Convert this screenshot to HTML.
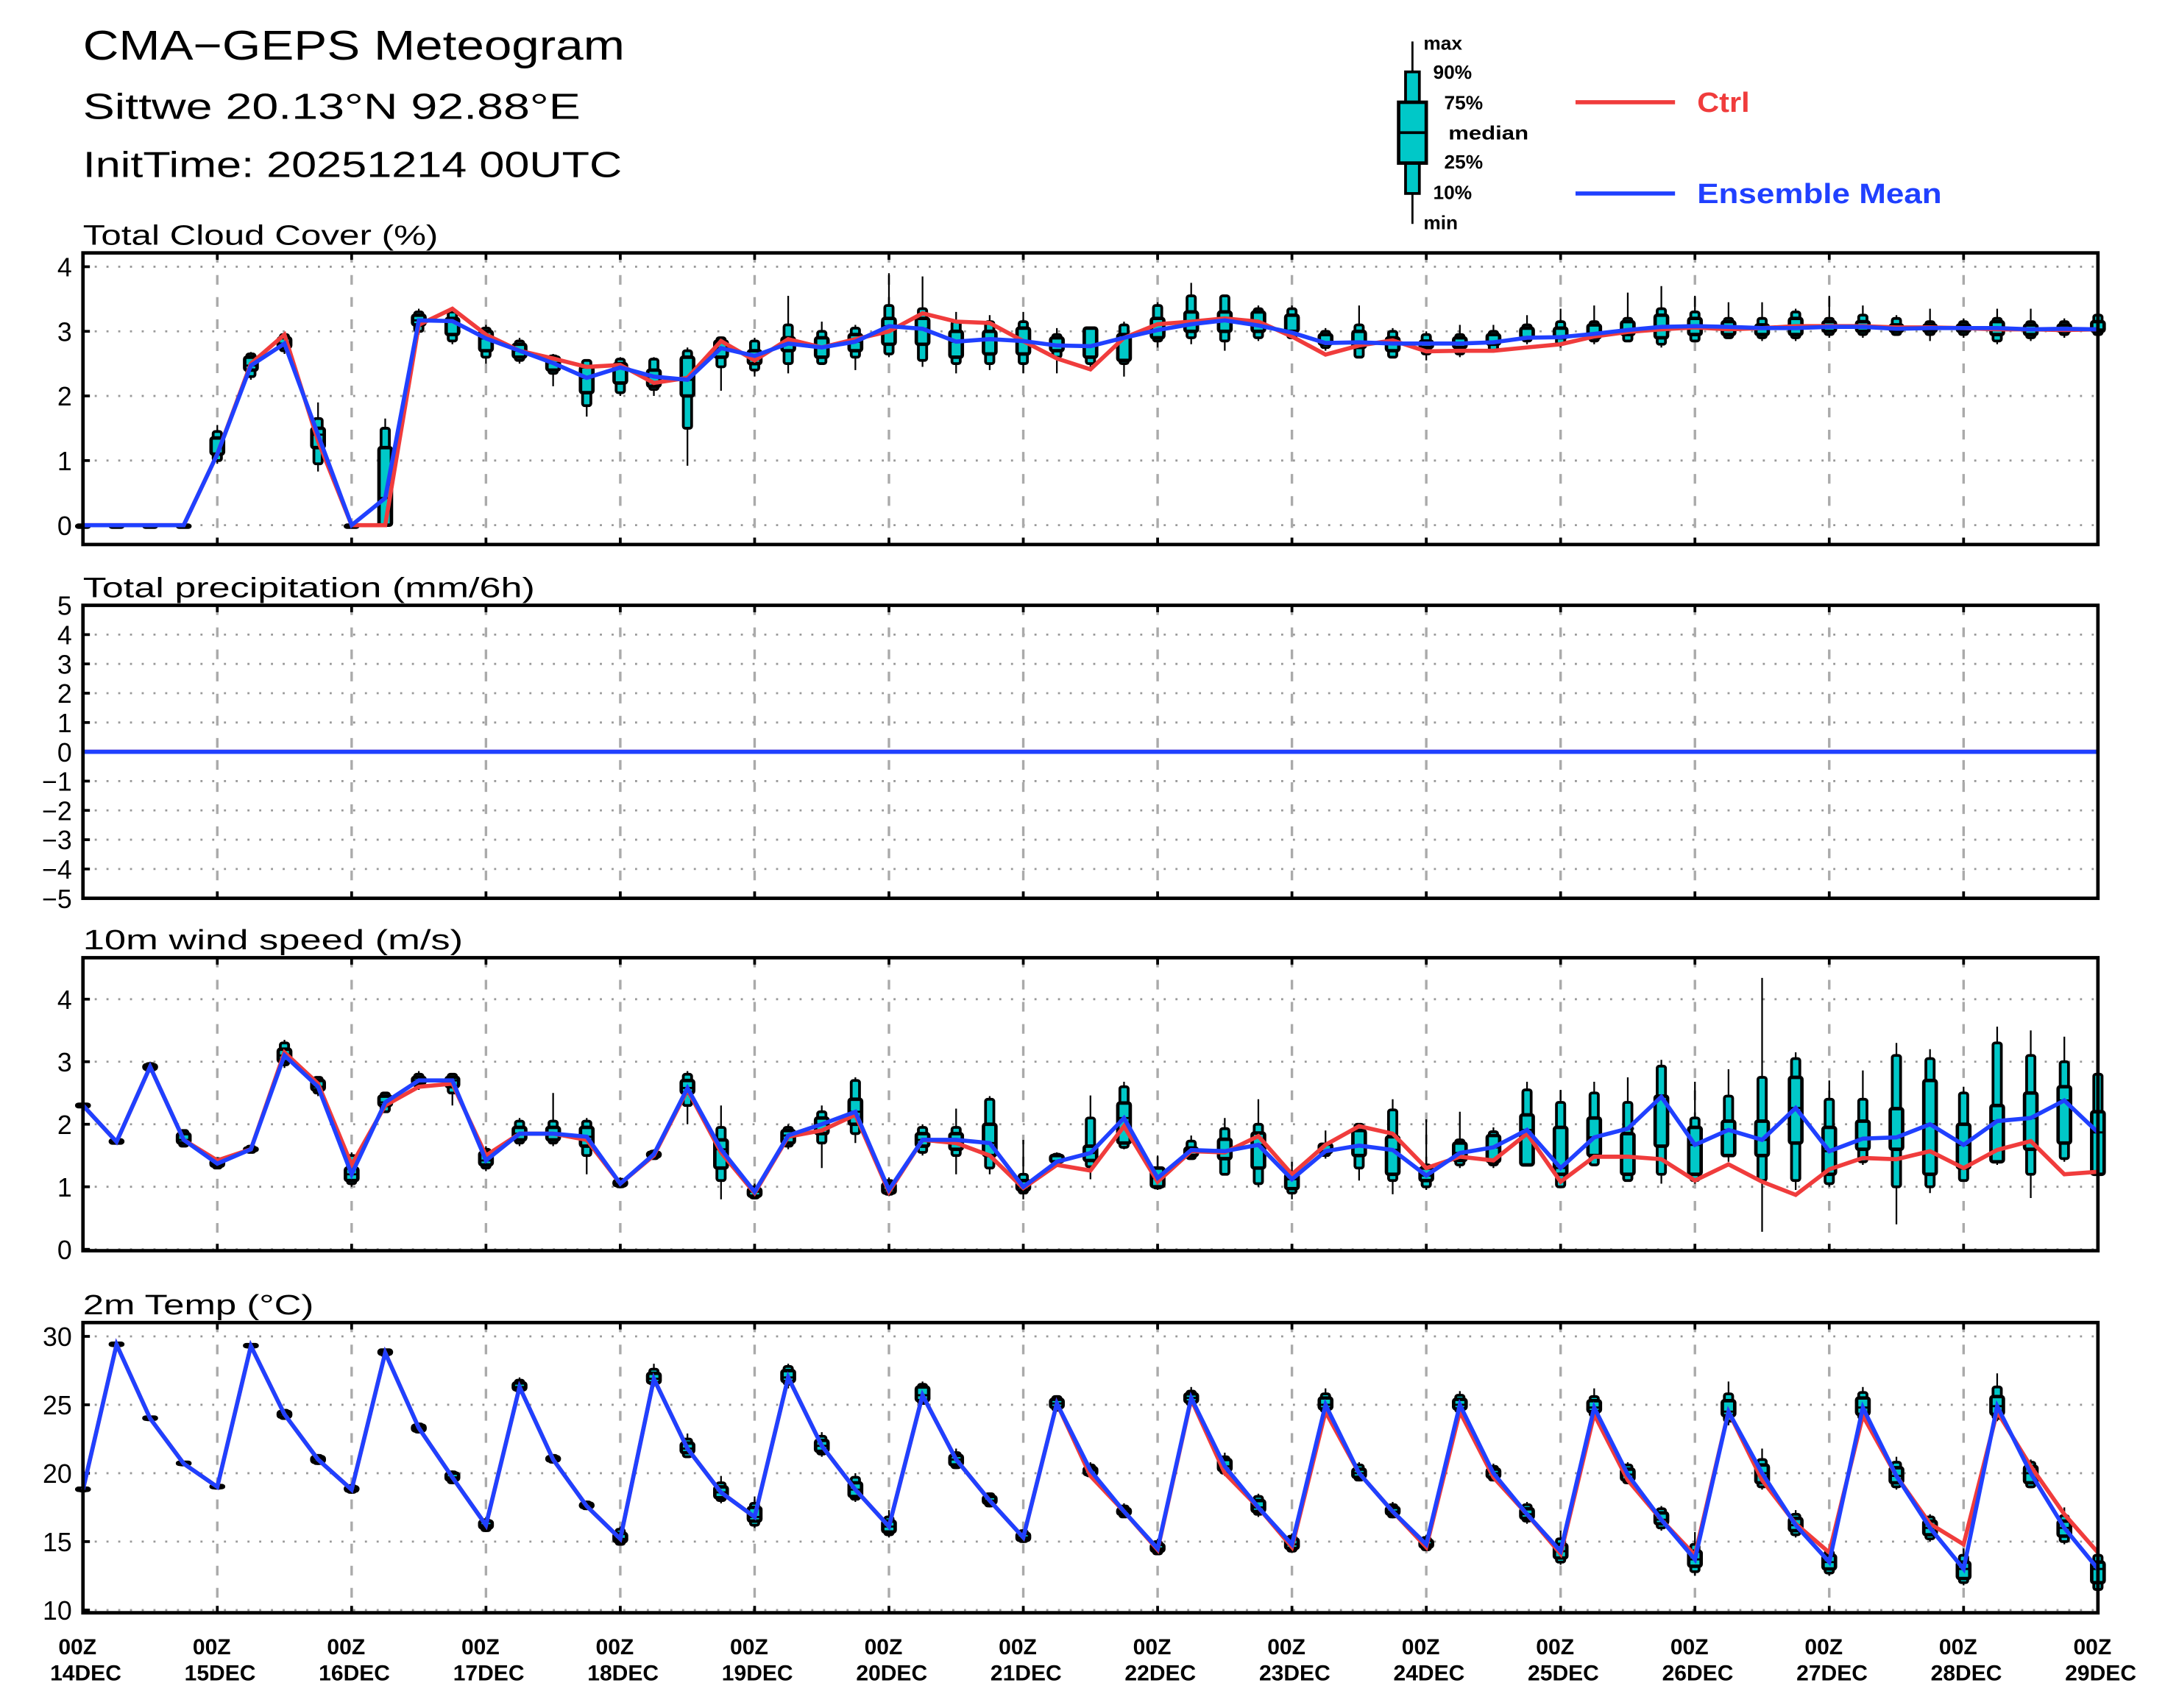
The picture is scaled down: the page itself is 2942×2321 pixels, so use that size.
<!DOCTYPE html>
<html><head><meta charset="utf-8">
<style>
html,body{margin:0;padding:0;background:#fff;}
svg{display:block;}
text{font-family:"Liberation Sans",sans-serif;}
</style></head>
<body>
<svg id="chart" xmlns="http://www.w3.org/2000/svg" width="2942" height="2321" viewBox="0 0 1566.5 1235.9">
<rect x="0" y="0" width="1566.5" height="1235.9" fill="#fff"/>
<g fill="#000">
<text x="60" y="43" font-size="30" textLength="392" lengthAdjust="spacingAndGlyphs">CMA−GEPS Meteogram</text>
<text x="60" y="86" font-size="26" textLength="360" lengthAdjust="spacingAndGlyphs">Sittwe 20.13°N 92.88°E</text>
<text x="60" y="128" font-size="26" textLength="390" lengthAdjust="spacingAndGlyphs">InitTime: 20251214 00UTC</text>
</g>
<g>
<line x1="1022" y1="30" x2="1022" y2="162" stroke="#000" stroke-width="1.5"/>
<rect x="1017" y="52" width="10" height="88" fill="#00c8c8" stroke="#000" stroke-width="2"/>
<rect x="1012" y="74" width="20" height="44" fill="#00c8c8" stroke="#000" stroke-width="2.5"/>
<line x1="1012" y1="96" x2="1032" y2="96" stroke="#000" stroke-width="2"/>
<g font-size="14" font-weight="bold" fill="#000">
<text x="1030" y="36">max</text><text x="1037" y="57">90%</text><text x="1045" y="79">75%</text>
<text x="1048" y="101" textLength="58" lengthAdjust="spacingAndGlyphs">median</text><text x="1045" y="122">25%</text><text x="1037" y="144">10%</text><text x="1030" y="166">min</text>
</g>
<line x1="1140" y1="74" x2="1212" y2="74" stroke="#f03c3c" stroke-width="3"/>
<text x="1228" y="81" font-size="20" font-weight="bold" fill="#f03c3c" textLength="38" lengthAdjust="spacingAndGlyphs">Ctrl</text>
<line x1="1140" y1="140" x2="1212" y2="140" stroke="#2040ff" stroke-width="3"/>
<text x="1228" y="147" font-size="20" font-weight="bold" fill="#2040ff" textLength="177" lengthAdjust="spacingAndGlyphs">Ensemble Mean</text>
</g>
<g id="plots"></g>
</svg>
<script>
const NS="http://www.w3.org/2000/svg";
const dayLabels=["14DEC","15DEC","16DEC","17DEC","18DEC","19DEC","20DEC","21DEC","22DEC","23DEC","24DEC","25DEC","26DEC","27DEC","28DEC","29DEC"];

const cloudMean=[0,0,0,0,1.1,2.47,2.81,1.4,0,0.42,3.17,3.16,2.89,2.7,2.51,2.28,2.44,2.3,2.25,2.74,2.62,2.81,2.75,2.84,3.08,3.04,2.84,2.88,2.85,2.78,2.77,2.9,3.02,3.11,3.17,3.09,2.98,2.82,2.83,2.81,2.81,2.81,2.83,2.9,2.91,2.96,3.02,3.07,3.08,3.07,3.05,3.05,3.07,3.07,3.04,3.05,3.05,3.05,3.03,3.04,3.03];
const cloudCtrl=[0,0,0,0,1.1,2.5,2.95,1.3,0,0,3.1,3.35,2.95,2.7,2.58,2.45,2.48,2.2,2.28,2.85,2.55,2.88,2.75,2.88,3.0,3.28,3.15,3.13,2.85,2.58,2.41,2.9,3.11,3.15,3.2,3.15,2.92,2.64,2.78,2.86,2.69,2.7,2.7,2.75,2.8,2.92,2.99,3.03,3.06,3.03,3.05,3.08,3.08,3.08,3.06,3.06,3.05,3.03,3.03,3.02,3.03];
// [min,p10,p25,p75,p90,max]
const cloudQ=[[0,0,0,0,0,0],[0,0,0,0,0,0],[0,0,0,0,0,0],[0,0,0,0,0,0],[0.95,1.0,1.1,1.35,1.45,1.55],[2.25,2.3,2.4,2.6,2.65,2.68],[2.65,2.7,2.75,2.9,2.95,2.98],[0.83,0.95,1.2,1.5,1.65,1.9],[0,0,0,0,0,0],[0,0,0,1.2,1.5,1.65],[2.95,3.0,3.1,3.25,3.3,3.35],[2.8,2.85,2.95,3.2,3.3,3.35],[2.5,2.6,2.7,3.0,3.05,3.1],[2.5,2.55,2.6,2.8,2.85,2.9],[2.15,2.35,2.4,2.6,2.62,2.65],[1.68,1.85,2.05,2.45,2.55,2.57],[2.0,2.05,2.2,2.5,2.57,2.6],[2.0,2.1,2.15,2.4,2.57,2.6],[0.92,1.5,2.0,2.6,2.7,2.75],[2.08,2.45,2.6,2.85,2.9,2.92],[2.3,2.4,2.5,2.7,2.85,2.9],[2.35,2.5,2.7,2.9,3.1,3.55],[2.5,2.5,2.6,2.9,3.0,3.15],[2.4,2.6,2.7,2.95,3.05,3.1],[2.6,2.65,2.8,3.2,3.4,3.9],[2.45,2.55,2.8,3.2,3.35,3.85],[2.35,2.5,2.6,3.0,3.15,3.3],[2.4,2.5,2.65,3.0,3.15,3.25],[2.35,2.5,2.65,3.05,3.15,3.3],[2.35,2.6,2.7,2.9,2.95,3.05],[2.4,2.5,2.6,3.05,3.05,3.05],[2.3,2.5,2.55,2.95,3.1,3.15],[2.75,2.85,2.9,3.2,3.4,3.45],[2.8,2.9,3.0,3.3,3.55,3.75],[2.7,2.85,3.0,3.3,3.55,3.55],[2.85,2.9,3.0,3.3,3.35,3.4],[2.9,2.9,3.0,3.25,3.35,3.4],[2.7,2.75,2.8,2.95,3.0,3.05],[2.6,2.6,2.75,3.0,3.1,3.4],[2.6,2.6,2.7,2.9,3.0,3.05],[2.55,2.65,2.75,2.85,2.95,3.0],[2.6,2.65,2.75,2.9,2.95,3.1],[2.7,2.7,2.8,2.95,3.0,3.1],[2.8,2.85,2.9,3.05,3.1,3.25],[2.75,2.8,2.9,3.05,3.15,3.35],[2.8,2.85,2.9,3.1,3.15,3.4],[2.85,2.85,2.95,3.15,3.2,3.6],[2.75,2.8,2.9,3.25,3.35,3.7],[2.85,2.85,2.95,3.2,3.3,3.55],[2.9,2.9,2.95,3.15,3.2,3.45],[2.85,2.9,2.95,3.1,3.2,3.45],[2.85,2.9,2.95,3.2,3.3,3.35],[2.9,2.95,3.0,3.15,3.2,3.55],[2.9,2.95,3.0,3.15,3.25,3.4],[2.95,2.95,3.0,3.1,3.2,3.25],[2.85,2.95,3.0,3.1,3.15,3.35],[2.9,2.95,3.0,3.1,3.15,3.2],[2.8,2.85,2.95,3.15,3.2,3.35],[2.85,2.9,2.95,3.1,3.15,3.35],[2.9,2.95,3.0,3.1,3.15,3.2],[2.9,2.95,3.0,3.15,3.25,3.28]];

const precipMean=new Array(61).fill(0);
const precipCtrl=new Array(61).fill(0);

const windMean=[2.3,1.72,2.92,1.75,1.37,1.6,3.1,2.6,1.2,2.35,2.7,2.7,1.42,1.85,1.85,1.8,1.05,1.52,2.58,1.6,0.92,1.82,2.0,2.2,0.95,1.75,1.75,1.7,1.0,1.4,1.54,2.1,1.14,1.59,1.57,1.67,1.12,1.57,1.66,1.59,1.18,1.54,1.63,1.91,1.3,1.79,1.93,2.44,1.67,1.91,1.75,2.26,1.57,1.77,1.79,2.0,1.67,2.05,2.1,2.38,1.87];
const windCtrl=[2.3,1.72,2.92,1.75,1.42,1.6,3.15,2.65,1.35,2.3,2.6,2.65,1.5,1.85,1.85,1.75,1.05,1.5,2.55,1.55,0.9,1.8,1.9,2.15,0.92,1.75,1.7,1.5,0.98,1.35,1.26,1.97,1.08,1.57,1.55,1.81,1.2,1.67,1.97,1.85,1.3,1.48,1.42,1.85,1.08,1.48,1.48,1.44,1.1,1.36,1.08,0.87,1.28,1.46,1.44,1.57,1.3,1.59,1.73,1.2,1.24];
const windQ=[[2.28,2.28,2.28,2.32,2.32,2.32],[1.7,1.7,1.7,1.75,1.75,1.75],[2.85,2.85,2.88,2.95,2.97,3.0],[1.65,1.65,1.7,1.85,1.9,1.9],[1.3,1.3,1.33,1.42,1.45,1.45],[1.55,1.55,1.58,1.62,1.65,1.65],[2.9,2.95,3.0,3.2,3.3,3.35],[2.45,2.5,2.55,2.7,2.75,2.75],[1.0,1.05,1.1,1.3,1.5,1.55],[2.2,2.2,2.3,2.45,2.5,2.5],[2.55,2.6,2.65,2.75,2.8,2.85],[2.3,2.5,2.6,2.75,2.8,2.8],[1.25,1.3,1.35,1.55,1.6,1.65],[1.65,1.7,1.75,1.95,2.05,2.1],[1.65,1.7,1.75,1.95,2.05,2.5],[1.2,1.5,1.65,1.95,2.05,2.1],[1.0,1.0,1.02,1.1,1.12,1.15],[1.45,1.45,1.48,1.55,1.57,1.6],[2.0,2.3,2.5,2.7,2.8,2.85],[0.8,1.1,1.3,1.75,1.95,2.3],[0.8,0.82,0.85,0.97,1.0,1.05],[1.6,1.65,1.7,1.9,1.95,2.0],[1.3,1.7,1.85,2.1,2.2,2.3],[1.7,1.85,2.0,2.4,2.7,2.75],[0.85,0.88,0.9,1.05,1.1,1.15],[1.5,1.55,1.65,1.85,1.95,2.0],[1.2,1.5,1.6,1.85,1.95,2.25],[1.2,1.3,1.5,2.0,2.4,2.45],[0.8,0.9,0.95,1.1,1.2,1.75],[1.35,1.38,1.4,1.5,1.52,1.55],[1.12,1.32,1.42,1.65,2.1,2.46],[1.6,1.63,1.7,2.34,2.6,2.68],[0.95,0.98,1.0,1.3,1.3,1.5],[1.45,1.45,1.5,1.62,1.73,1.82],[1.2,1.2,1.45,1.76,1.93,2.1],[1.0,1.05,1.3,1.86,2.0,2.4],[0.8,0.9,0.97,1.2,1.2,1.4],[1.45,1.5,1.55,1.68,1.68,1.9],[1.1,1.3,1.5,1.9,2.0,2.0],[0.88,1.1,1.2,1.8,2.23,2.4],[0.95,1.0,1.1,1.3,1.35,2.08],[1.3,1.35,1.42,1.7,1.75,2.2],[1.3,1.35,1.4,1.82,1.88,1.95],[1.35,1.35,1.35,2.15,2.55,2.68],[1.0,1.0,1.2,1.95,2.35,2.55],[1.35,1.35,1.5,2.1,2.5,2.68],[1.1,1.1,1.2,1.85,2.35,2.75],[1.05,1.2,1.65,2.45,2.93,3.03],[1.05,1.1,1.2,1.95,2.1,2.68],[1.4,1.5,1.5,2.05,2.45,2.88],[0.28,1.1,1.5,2.05,2.75,4.34],[0.95,1.1,1.7,2.75,3.05,3.15],[1.0,1.05,1.2,1.95,2.4,2.7],[1.35,1.4,1.6,2.05,2.4,2.86],[0.4,1.0,1.6,2.25,3.1,3.3],[0.9,1.0,1.2,2.7,3.05,3.2],[1.1,1.1,1.3,2.0,2.5,2.6],[1.35,1.4,1.4,2.3,3.3,3.56],[0.82,1.2,1.6,2.5,3.1,3.5],[1.4,1.45,1.7,2.6,3.0,3.4],[1.2,1.2,1.2,2.2,2.8,2.8]];

const tempMean=[18.8,29.4,24.0,20.7,19.0,29.3,24.3,21.0,18.8,28.8,23.3,19.7,16.2,26.3,21.0,17.6,15.2,26.9,21.8,18.6,16.8,27.0,22.0,18.8,16.1,25.7,21.0,18.0,15.3,25.1,20.2,17.2,14.5,25.5,20.5,17.5,14.8,25.0,20.0,17.2,14.8,25.0,20.0,17.0,14.3,24.8,19.9,16.6,13.7,24.5,20.0,16.2,13.5,24.8,19.8,16.0,13.0,24.9,20.0,16.0,13.0];
const tempCtrl=[18.8,29.4,24.0,20.7,19.0,29.3,24.3,21.0,18.8,28.8,23.3,19.7,16.2,26.3,21.0,17.6,15.2,26.9,21.8,18.6,16.8,27.0,22.0,18.8,16.1,25.7,21.0,18.0,15.3,25.1,19.8,17.2,14.4,25.4,20.0,17.5,14.6,24.5,20.0,17.2,14.6,24.5,19.7,17.0,14.1,24.3,19.5,16.6,14.0,24.5,19.5,16.3,14.2,24.2,19.8,16.3,14.8,24.5,20.5,17.0,14.2];
const tempQ=[[18.7,18.7,18.75,18.9,18.9,18.9],[29.3,29.3,29.35,29.5,29.5,29.5],[23.9,23.9,23.95,24.1,24.1,24.1],[20.6,20.6,20.65,20.8,20.8,20.8],[18.9,18.9,18.95,19.1,19.1,19.1],[29.2,29.2,29.25,29.4,29.4,29.4],[23.9,24.0,24.1,24.5,24.6,24.7],[20.6,20.7,20.8,21.2,21.3,21.4],[18.5,18.6,18.7,19.0,19.1,19.2],[28.5,28.6,28.7,29.0,29.0,29.0],[23.0,23.0,23.1,23.5,23.6,23.7],[19.2,19.3,19.5,20.0,20.1,20.2],[15.7,15.8,16.0,16.5,16.6,16.8],[25.8,26.0,26.1,26.6,26.8,27.0],[20.7,20.8,20.9,21.2,21.3,21.4],[17.3,17.4,17.5,17.8,17.9,18.0],[14.7,14.8,15.0,15.6,15.9,16.1],[26.3,26.5,26.6,27.3,27.6,28.0],[21.1,21.2,21.5,22.2,22.5,22.9],[17.8,18.0,18.2,19.0,19.3,19.8],[16.0,16.2,16.5,17.5,17.8,18.3],[26.2,26.5,26.7,27.5,27.8,28.0],[21.2,21.4,21.6,22.4,22.7,23.0],[17.9,18.1,18.3,19.3,19.7,20.0],[15.3,15.5,15.7,16.5,16.8,17.3],[25.0,25.1,25.3,26.3,26.5,26.7],[20.3,20.4,20.6,21.3,21.5,21.8],[17.5,17.6,17.8,18.3,18.5,18.6],[14.9,15.0,15.1,15.6,15.8,15.9],[24.5,24.6,24.8,25.4,25.6,25.7],[19.7,19.8,19.9,20.4,20.6,20.8],[16.8,16.8,17.0,17.4,17.6,17.8],[14.0,14.1,14.3,14.8,15.0,15.2],[24.9,25.0,25.2,25.8,26.0,26.3],[19.8,20.0,20.2,21.0,21.2,21.5],[16.8,17.0,17.2,18.0,18.3,18.5],[14.2,14.3,14.5,15.2,15.4,15.6],[24.3,24.5,24.7,25.5,25.8,26.2],[19.4,19.5,19.7,20.3,20.6,20.8],[16.7,16.8,17.0,17.5,17.7,17.9],[14.3,14.4,14.6,15.1,15.3,15.5],[24.3,24.5,24.7,25.4,25.7,26.0],[19.4,19.5,19.7,20.3,20.5,20.7],[16.3,16.5,16.7,17.4,17.7,17.9],[13.3,13.5,13.8,14.8,15.2,15.8],[24.0,24.2,24.5,25.3,25.6,26.2],[19.2,19.3,19.5,20.3,20.6,20.8],[15.8,16.0,16.3,17.1,17.4,17.6],[12.5,12.8,13.2,14.3,14.8,15.7],[23.5,23.8,24.2,25.3,25.8,26.7],[18.8,19.0,19.3,20.6,21.0,21.8],[15.3,15.5,15.8,16.7,17.0,17.3],[12.5,12.7,13.0,14.0,14.3,14.5],[23.8,24.0,24.3,25.5,25.9,26.3],[18.8,19.0,19.3,20.4,20.8,21.2],[15.0,15.2,15.5,16.5,16.8,17.0],[11.8,12.0,12.3,13.5,14.0,14.5],[23.8,24.0,24.3,25.6,26.3,27.3],[18.9,19.0,19.3,20.5,20.8,21.0],[14.8,15.0,15.4,16.5,16.9,17.5],[11.3,11.5,12.0,13.5,14.0,14.3]];

const cloudTicks=[0,1,2,3,4];
const precipTicks=[-5,-4,-3,-2,-1,0,1,2,3,4,5];
const windTicks=[0,1,2,3,4];
const tempTicks=[10,15,20,25,30];

const X0=60,X1=1518;
function xScale(i){return X0+(X1-X0)*i/60;}
function mk(tag,attrs,parent){const e=document.createElementNS(NS,tag);for(const k in attrs)e.setAttribute(k,attrs[k]);parent.appendChild(e);return e;}
const root=document.getElementById('plots');

const panels=[
 {name:'cloud',title:'Total Cloud Cover (%)',tl:257,top:183,bot:394,y0v:0,y0:380,y1v:4,y1:193,ticks:cloudTicks,mean:cloudMean,ctrl:cloudCtrl,q:cloudQ},
 {name:'precip',title:'Total precipitation (mm/6h)',tl:327,top:438,bot:650,y0v:-5,y0:650,y1v:5,y1:438,ticks:precipTicks,mean:precipMean,ctrl:precipCtrl,q:null},
 {name:'wind',title:'10m wind speed (m/s)',tl:275,top:693,bot:905,y0v:0,y0:904,y1v:4,y1:723,ticks:windTicks,mean:windMean,ctrl:windCtrl,q:windQ},
 {name:'temp',title:'2m Temp (°C)',tl:167,top:957,bot:1167,y0v:10,y0:1165,y1v:30,y1:967,ticks:tempTicks,mean:tempMean,ctrl:tempCtrl,q:tempQ}
];

panels.forEach(p=>{
 const yS=v=>p.y0+(v-p.y0v)*(p.y1-p.y0)/(p.y1v-p.y0v);
 const g=mk('g',{},root);
 
 
 const t=mk('text',{x:60,y:p.top-6,'font-size':20,fill:'#000',textLength:p.tl,lengthAdjust:'spacingAndGlyphs'},g);
 t.textContent=p.title;
 
 
 p.ticks.forEach(v=>{
  const y=yS(v);
  const gl=mk('line',{x1:X0,x2:X1,y1:y,y2:y,stroke:'#999','stroke-width':1.5,'stroke-dasharray':'1.5 7'},g);
  
  
  const tk=mk('line',{x1:X0,x2:X0+5,y1:y,y2:y,stroke:'#000','stroke-width':2},g);
  
  
  const tl=mk('text',{x:X0-8,y:y+7,'font-size':19,'text-anchor':'end',fill:'#000'},g);
  tl.textContent=(v<0?'−'+Math.abs(v):String(v));
  
  
 });
 for(let d=1;d<15;d++){
  const x=xScale(d*4);
  const vl=mk('line',{x1:x,x2:x,y1:p.top,y2:p.bot,stroke:'#aaa','stroke-width':1.8,'stroke-dasharray':'7 9'},g);
  
  
 }
 if(p.q){
  p.q.forEach((q,i)=>{
   const x=xScale(i);
   const bg=mk('g',{},g);
   
   
   mk('line',{x1:x,x2:x,y1:yS(q[0]),y2:yS(q[5]),stroke:'#000','stroke-width':1.2},bg);
   const h1=Math.max(1.5,yS(q[1])-yS(q[4]));
   mk('rect',{x:x-3,y:yS(q[4]),width:6,height:h1,fill:'#00c8c8',stroke:'#000','stroke-width':2,rx:1.5},bg);
   const h2=Math.max(1.5,yS(q[2])-yS(q[3]));
   mk('rect',{x:x-4.5,y:yS(q[3]),width:9,height:h2,fill:'#00c8c8',stroke:'#000','stroke-width':2.5,rx:1.5},bg);
   const md=yS(p.mean[i]);
   mk('line',{x1:x-4.5,x2:x+4.5,y1:md,y2:md,stroke:'#000','stroke-width':1.5},bg);
  });
 }
 const pts=a=>a.map((v,i)=>xScale(i).toFixed(1)+','+yS(v).toFixed(1)).join(' ');
 const cl=mk('polyline',{points:pts(p.ctrl),fill:'none',stroke:'#f03c3c','stroke-width':3,'stroke-linejoin':'miter'},g);
 
 
 const ml=mk('polyline',{points:pts(p.mean),fill:'none',stroke:'#2040ff','stroke-width':3,'stroke-linejoin':'miter'},g);
 
 
 const fr=mk('rect',{x:X0,y:p.top,width:X1-X0,height:p.bot-p.top,fill:'none',stroke:'#000','stroke-width':2.5},g);
 
 
 for(let d=1;d<15;d++){
  const x=xScale(d*4);
  mk('line',{x1:x,x2:x,y1:p.bot,y2:p.bot-5,stroke:'#000','stroke-width':2},g);
  mk('line',{x1:x,x2:x,y1:p.top,y2:p.top+5,stroke:'#000','stroke-width':2},g);
 }
});

const xg=mk('g',{},root);


dayLabels.forEach((lab,d)=>{
 const x=xScale(d*4);
 const a=mk('text',{x:x-4,y:1197,'font-size':16,'font-weight':'bold','text-anchor':'middle',fill:'#000'},xg);
 a.textContent='00Z';
 
 
 const b=mk('text',{x:x+2,y:1216,'font-size':16,'font-weight':'bold','text-anchor':'middle',fill:'#000'},xg);
 b.textContent=lab;
 
 
});
</script>
</body></html>
